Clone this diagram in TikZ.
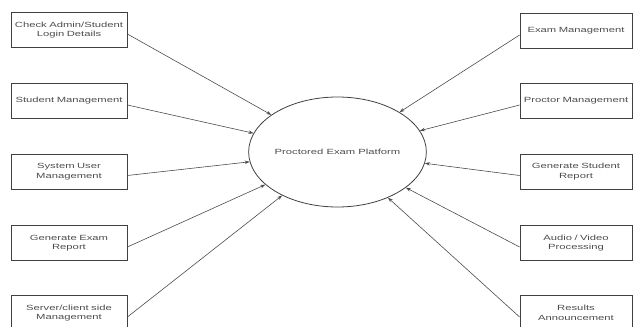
\documentclass[tikz,border=0pt]{standalone}
\usepackage{fontspec}
\setmainfont{Liberation Sans}
\newfontfamily\widefont[FakeStretch=1.5]{Liberation Sans}
\usetikzlibrary{arrows.meta,shapes.geometric}
\begin{document}
\begin{tikzpicture}[x=1pt,y=-1pt,
  txt/.style={font=\widefont\fontsize{7.5}{9.5}\selectfont,text=black!70},
  box/.style={txt,draw=black!75,line width=0.8pt,minimum height=35pt,align=center,inner sep=1pt},
  lbox/.style={box,minimum width=116pt,text width=114pt},
  rbox/.style={box,minimum width=112pt,text width=110pt},
  conn/.style={draw=black!70,line width=0.6pt,-{Stealth[length=5pt,width=3.5pt]}}]
\useasboundingbox (0,0) rectangle (633,327);
\node[txt,ellipse,draw=black!75,line width=0.8pt,minimum width=175pt,minimum height=110pt,inner sep=0pt] (ell) at (337.5,152) {Proctored Exam Platform};
\node[lbox] (l1) at (69,30) {Check Admin/Student\\Login Details};
\node[lbox] (l2) at (69,101) {Student Management};
\node[lbox] (l3) at (69,171.5) {System User\\Management};
\node[lbox] (l4) at (69,243) {Generate Exam\\Report};
\node[lbox] (l5) at (69,313) {Server/client side\\Management};
\node[rbox] (r1) at (576,31) {Exam Management};
\node[rbox] (r2) at (576,101) {Proctor Management};
\node[rbox] (r3) at (576,171.5) {Generate Student\\Report};
\node[rbox] (r4) at (576,243) {Audio / Video\\Processing};
\node[rbox] (r5) at (576,313) {Results\\Announcement};
\foreach \n in {l1,l2,l3,l4,l5}{
  \draw[conn] ([yshift=-4pt]\n.east) -- (ell);
}
\foreach \n in {r1,r2,r3,r4,r5}{
  \draw[conn] ([yshift=-4pt]\n.west) -- (ell);
}
\end{tikzpicture}
\end{document}
